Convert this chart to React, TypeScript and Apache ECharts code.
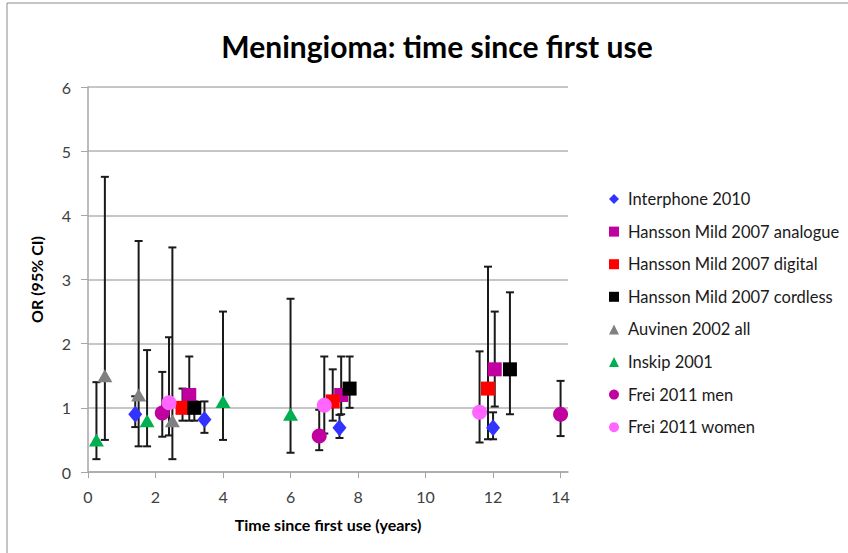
import React, { useEffect, useRef } from "react";
import * as echarts from "echarts";

const xTicks = [0, 2, 4, 6, 8, 10, 12, 14];

const interphoneX = [1.4, 3.45, 7.45, 12.0];
const interphoneOR = [0.9, 0.82, 0.69, 0.69];
const interphoneLo = [0.7, 0.61, 0.53, 0.51];
const interphoneHi = [1.18, 1.1, 0.89, 0.93];

const analogueX = [3.0, 7.5, 12.05];
const analogueOR = [1.2, 1.2, 1.6];
const analogueLo = [0.8, 0.9, 1.02];
const analogueHi = [1.8, 1.8, 2.5];

const digitalX = [2.8, 7.25, 11.85];
const digitalOR = [1.0, 1.1, 1.3];
const digitalLo = [0.8, 0.8, 0.51];
const digitalHi = [1.3, 1.6, 3.2];

const cordlessX = [3.15, 7.75, 12.5];
const cordlessOR = [1.0, 1.3, 1.6];
const cordlessLo = [0.8, 1.0, 0.9];
const cordlessHi = [1.1, 1.8, 2.8];

const auvinenX = [0.5, 1.5, 2.5];
const auvinenOR = [1.5, 1.2, 0.8];
const auvinenLo = [0.5, 0.4, 0.2];
const auvinenHi = [4.6, 3.6, 3.5];

const inskipX = [0.25, 1.75, 4.0, 6.0];
const inskipOR = [0.5, 0.8, 1.1, 0.9];
const inskipLo = [0.2, 0.4, 0.5, 0.3];
const inskipHi = [1.4, 1.9, 2.5, 2.7];

const freiMenX = [2.2, 6.85, 14.0];
const freiMenOR = [0.92, 0.56, 0.9];
const freiMenLo = [0.55, 0.34, 0.56];
const freiMenHi = [1.56, 0.97, 1.42];

const freiWomenX = [2.4, 7.0, 11.6];
const freiWomenOR = [1.08, 1.04, 0.93];
const freiWomenLo = [0.57, 0.6, 0.46];
const freiWomenHi = [2.1, 1.8, 1.88];

const studies = [
  { name: "Interphone 2010", x: interphoneX, or: interphoneOR, lo: interphoneLo, hi: interphoneHi, color: "#3333FF", symbol: "diamond", size: [14, 17] },
  { name: "Hansson Mild 2007 analogue", x: analogueX, or: analogueOR, lo: analogueLo, hi: analogueHi, color: "#C0009F", symbol: "rect", size: 14 },
  { name: "Hansson Mild 2007 digital", x: digitalX, or: digitalOR, lo: digitalLo, hi: digitalHi, color: "#FF0000", symbol: "rect", size: 14 },
  { name: "Hansson Mild 2007 cordless", x: cordlessX, or: cordlessOR, lo: cordlessLo, hi: cordlessHi, color: "#000000", symbol: "rect", size: 14 },
  { name: "Auvinen 2002 all", x: auvinenX, or: auvinenOR, lo: auvinenLo, hi: auvinenHi, color: "#808080", symbol: "triangle", size: [15, 13] },
  { name: "Inskip 2001", x: inskipX, or: inskipOR, lo: inskipLo, hi: inskipHi, color: "#00B050", symbol: "triangle", size: [15, 13] },
  { name: "Frei 2011 men", x: freiMenX, or: freiMenOR, lo: freiMenLo, hi: freiMenHi, color: "#C0009F", symbol: "circle", size: 15 },
  { name: "Frei 2011 women", x: freiWomenX, or: freiWomenOR, lo: freiWomenLo, hi: freiWomenHi, color: "#FF66FF", symbol: "circle", size: 15 },
];

const FONT = "Lato, 'Open Sans', sans-serif";

export default function App() {
  const ref = useRef<HTMLDivElement>(null);
  useEffect(() => {
    if (!ref.current) return;
    const chart = echarts.init(ref.current, null, { renderer: "svg" });

    const errData: number[][] = [];
    studies.forEach((s) => {
      s.x.forEach((x, i) => errData.push([x, s.lo[i], s.hi[i]]));
    });

    const series: any[] = [
      {
        type: "custom",
        name: "errors",
        z: 1,
        data: errData,
        renderItem: (params: any, api: any) => {
          const x = api.value(0);
          const lo = api.coord([x, api.value(1)]);
          const hi = api.coord([x, api.value(2)]);
          const cw = 4;
          const style = { stroke: "#1a1a1a", lineWidth: 2 };
          return {
            type: "group",
            children: [
              { type: "line", shape: { x1: lo[0], y1: lo[1], x2: hi[0], y2: hi[1] }, style },
              { type: "line", shape: { x1: lo[0] - cw, y1: lo[1], x2: lo[0] + cw, y2: lo[1] }, style },
              { type: "line", shape: { x1: hi[0] - cw, y1: hi[1], x2: hi[0] + cw, y2: hi[1] }, style },
            ],
          };
        },
      },
      ...studies.map((s) => ({
        type: "scatter",
        name: s.name,
        z: 2,
        symbol: s.symbol,
        symbolSize: s.size,
        itemStyle: { color: s.color, opacity: 1 },
        data: s.x.map((x, i) => [x, s.or[i]]),
      })),
    ];

    chart.setOption({
      animation: false,
      backgroundColor: "#ffffff",
      title: {
        text: "Meningioma: time since first use",
        left: 432,
        top: 26,
        textAlign: "center",
        textStyle: { fontFamily: FONT, fontSize: 30, fontWeight: "bold", color: "#000" },
      },
      legend: {
        orient: "vertical",
        left: 604,
        top: 185,
        itemWidth: 10,
        itemHeight: 10,
        itemGap: 14.6,
        data: studies.map((s) => s.name),
        textStyle: { fontFamily: FONT, fontSize: 16.5, color: "#1a1a1a", lineHeight: 18, padding: [0, 0, 0, 4] },
      },
      graphic: [
        {
          type: "rect",
          shape: { x: 7, y: 3, width: 900, height: 600 },
          style: { fill: "none", stroke: "#8c8c8c", lineWidth: 1 },
          silent: true,
        },
      ],
      grid: { left: 88, right: 280, top: 87, bottom: 81 },
      xAxis: {
        type: "value",
        min: 0,
        max: 14.22,
        name: "Time since first use (years)",
        nameLocation: "middle",
        nameGap: 44,
        nameTextStyle: { fontFamily: FONT, fontSize: 16, fontWeight: "bold", color: "#000" },
        axisLine: { show: true, lineStyle: { color: "#a6a6a6", width: 1.5 } },
        axisTick: { show: true, length: 6, lineStyle: { color: "#a6a6a6" }, customValues: xTicks },
        axisLabel: { fontFamily: FONT, fontSize: 16, color: "#404040", margin: 16, customValues: xTicks },
        splitLine: { show: false },
      },
      yAxis: {
        type: "value",
        min: 0,
        max: 6,
        interval: 1,
        name: "OR (95% CI)",
        nameLocation: "middle",
        nameGap: 44,
        nameTextStyle: { fontFamily: FONT, fontSize: 16, fontWeight: "bold", color: "#000" },
        axisLine: { show: true, lineStyle: { color: "#a6a6a6", width: 1.5 } },
        axisTick: { show: true, length: 7, lineStyle: { color: "#a6a6a6" } },
        axisLabel: { fontFamily: FONT, fontSize: 16, color: "#404040", margin: 17 },
        splitLine: { show: true, lineStyle: { color: "#b3b3b3", width: 1.5 } },
      },
      series,
    });
    return () => chart.dispose();
  }, []);
  return (
    <div
      ref={ref}
      style={{ position: "fixed", left: 0, top: 0, width: 848, height: 553 }}
    />
  );
}
